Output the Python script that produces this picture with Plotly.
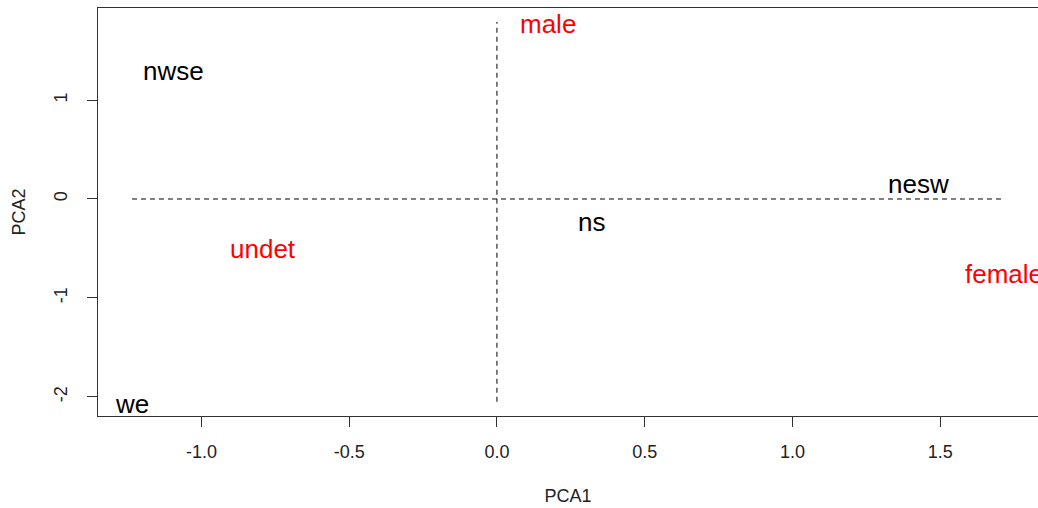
import plotly.graph_objects as go

# PCA scores of each group on the first two components
groups = ["nwse", "male", "nesw", "ns", "undet", "female", "we"]
pca1 = [-1.096, 0.173, 1.425, 0.321, -0.792, 1.716, -1.235]
pca2 = [1.31, 1.79, 0.175, -0.21, -0.485, -0.735, -2.05]
colors = ["black", "red", "black", "black", "red", "red", "black"]

x_ticks = [-1.0, -0.5, 0.0, 0.5, 1.0, 1.5]
x_tick_text = ["-1.0", "-0.5", "0.0", "0.5", "1.0", "1.5"]
y_ticks = [-2, -1, 0, 1]
y_tick_text = ["-2", "-1", "0", "1"]

font = "Liberation Sans, Arial, sans-serif"

fig = go.Figure()

# dashed reference lines through the origin, spanning the data range
fig.add_trace(go.Scatter(
    x=[min(pca1), max(pca1)], y=[0, 0], mode="lines",
    line=dict(color="black", width=1, dash="5px,4px"),
    hoverinfo="skip", showlegend=False,
))
fig.add_trace(go.Scatter(
    x=[0, 0], y=[min(pca2), max(pca2)], mode="lines",
    line=dict(color="black", width=1, dash="5px,4px"),
    hoverinfo="skip", showlegend=False,
))

# group labels placed at their scores
for name, gx, gy, col in zip(groups, pca1, pca2, colors):
    fig.add_annotation(
        x=gx, y=gy, xref="x", yref="y", text=name, showarrow=False,
        xanchor="center", yanchor="middle", yshift=-2,
        font=dict(family=font, size=26, color=col),
    )

fig.update_layout(
    width=1038, height=508,
    margin=dict(l=98, r=0, t=8, b=92),
    paper_bgcolor="white", plot_bgcolor="white",
    font=dict(family=font, color="black"),
    xaxis=dict(
        range=[-1.350, 1.831], showgrid=False, zeroline=False,
        tickmode="array", tickvals=x_ticks, ticktext=x_tick_text,
        ticks="outside", ticklen=10, tickcolor="#333", tickwidth=1,
        tickfont=dict(size=18, color="#222"), ticklabelstandoff=9,
        showline=True, linecolor="#333", linewidth=1, mirror=True,
        title=dict(text="PCA1", font=dict(size=18, color="#222"), standoff=28),
    ),
    yaxis=dict(
        range=[-2.194, 1.931], showgrid=False, zeroline=False,
        tickmode="array", tickvals=y_ticks, ticktext=y_tick_text,
        ticks="outside", ticklen=10, tickcolor="#333", tickwidth=1,
        tickangle=-90, tickfont=dict(size=18, color="#222"), ticklabelstandoff=13,
        showline=True, linecolor="#333", linewidth=1, mirror=False,
        title=dict(text="PCA2", font=dict(size=18, color="#222"), standoff=20),
    ),
)

fig.write_html("out.html")
